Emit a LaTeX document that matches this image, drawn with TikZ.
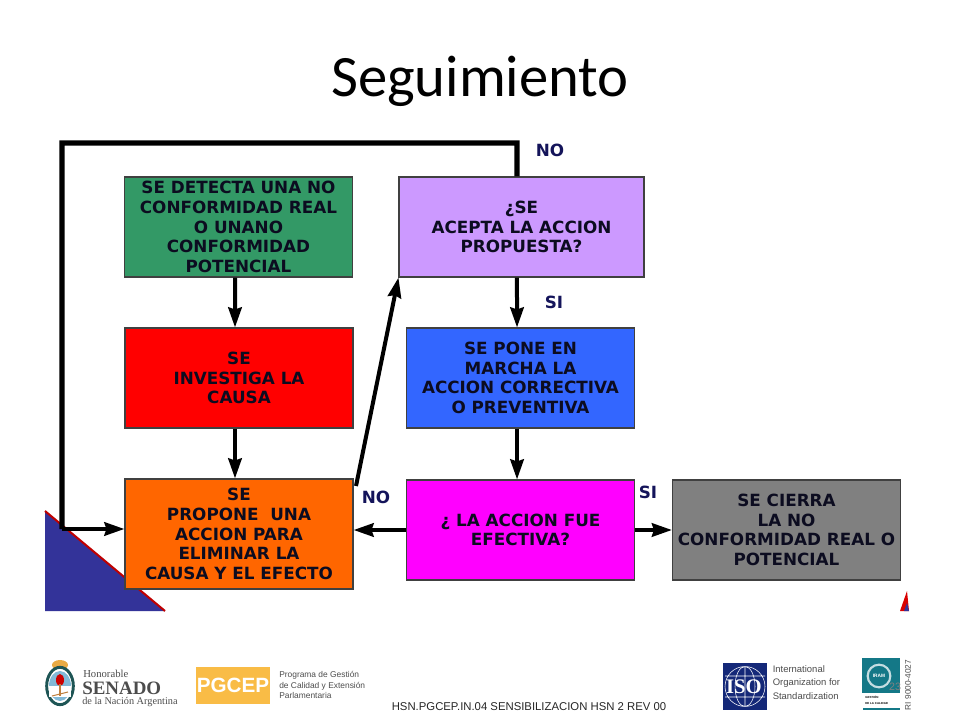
\documentclass[tikz,border=0pt]{standalone}
\usepackage{fontspec}
\setmainfont{Liberation Sans}
\newfontfamily\titlefont{Carlito}
\newfontfamily\boxfont{DejaVu Sans}
\newfontfamily\seriffont{Liberation Serif}
\usetikzlibrary{arrows.meta,shapes.geometric}
\definecolor{tinta}{HTML}{0C0C20}
\definecolor{marino}{HTML}{14145A}
\definecolor{azulado}{RGB}{51,51,153}
\definecolor{verdoso}{RGB}{51,153,102}
\definecolor{naranja}{RGB}{255,102,0}
\definecolor{lila}{RGB}{204,153,255}
\definecolor{celeste}{RGB}{51,102,255}
\definecolor{fucsia}{RGB}{255,0,255}
\definecolor{gris}{RGB}{128,128,128}
\definecolor{dorado}{RGB}{249,188,70}
\definecolor{isoazul}{RGB}{20,40,120}
\definecolor{iramazul}{RGB}{20,120,135}
\definecolor{escudoverde}{RGB}{30,85,85}
\definecolor{escudoazul}{RGB}{130,185,215}
\tikzset{
	caja/.style={draw=black!75,line width=0.8pt,minimum width=#1*0.75pt,minimum height=75pt,inner sep=0pt,align=center,text=tinta,font=\boxfont\bfseries\fontsize{12.6}{14.8}\selectfont},
	flecha/.style={draw=black,line width=3pt,-{Stealth[length=15pt,width=10pt,inset=1.5pt]}},
	lazo/.style={draw=black,line width=3.9pt,line join=miter},
	rotulo/.style={inner sep=0pt,text=marino,font=\boxfont\bfseries\fontsize{12.6}{14}\selectfont},
	logotexto/.style={inner sep=0pt,anchor=west,align=left,text=black!70}
}
\begin{document}
\begin{tikzpicture}[x=0.75pt,y=0.75pt,yscale=-1,xscale=1]
	\useasboundingbox (0,0) rectangle (960,720);
	
	% Triangles
	\fill [azulado] (45,511) -- (165,611) -- (45,611) -- cycle;
	\draw [line width=1.5pt,red!75!black] (45,511) -- (165,611);
	\fill [red!85!black] (900,611) -- (907,591) -- (909,611) -- cycle;
	\fill [azulado] (904,611) -- (907,603) -- (909,611) -- cycle;
	
	% Title
	\node (titulo) [inner sep=0pt] at (480,81) {\titlefont\fontsize{44}{50}\selectfont Seguimiento};
	
	% Boxes
	\node (detecta) [caja=228,fill=verdoso] at (238.5,227) {SE DETECTA UNA NO\\CONFORMIDAD REAL\\O UNANO\\CONFORMIDAD\\POTENCIAL};
	\node (investiga) [caja=228,fill=red] at (239,378) {SE\\INVESTIGA LA\\CAUSA};
	\node (propone) [caja=228,minimum height=82.5pt,fill=naranja] at (239,534) {SE\\PROPONE\ \ UNA\\ACCION PARA\\ELIMINAR LA\\CAUSA Y EL EFECTO};
	\node (acepta) [caja=245,fill=lila] at (521.5,227) {¿SE\\ACEPTA LA ACCION\\PROPUESTA?};
	\node (pone) [caja=228,fill=celeste] at (520.5,378) {SE PONE EN\\MARCHA LA\\ACCION CORRECTIVA\\O PREVENTIVA};
	\node (efectiva) [caja=228,fill=fucsia] at (520.5,530) {¿ LA ACCION FUE\\EFECTIVA?};
	\node (cierra) [caja=228,fill=gris] at (786.5,530) {SE CIERRA\\LA NO\\CONFORMIDAD REAL O\\POTENCIAL};
	
	% Arrows
	\draw [flecha] ([xshift=-2.6pt]detecta.south) -- ([xshift=-3pt]investiga.north);
	\draw [flecha] ([xshift=-3pt]investiga.south) -- ([xshift=-3pt]propone.north);
	\draw [flecha] ([xshift=-3.4pt]acepta.south) -- ([xshift=-2.6pt]pone.north);
	\draw [flecha] ([xshift=-2.6pt]pone.south) -- ([xshift=-2.6pt]efectiva.north);
	\draw [flecha] (efectiva.west) -- (efectiva.west -| propone.east);
	\draw [flecha] (efectiva.east) -- (efectiva.east -| cierra.west);
	\coordinate (salida) at (356,486);
	\draw [flecha] (salida) -- (acepta.south west);
	\coordinate (arriba) at (517,143);
	\coordinate (esquina) at (62,143);
	\coordinate (bajada) at (62,529);
	\draw [lazo] ([xshift=-3.4pt]acepta.north) -- (arriba) -- (esquina) -- (bajada);
	\draw [flecha] (bajada) -- (bajada -| propone.west);
	
	% Text Node
	\node (no1) [rotulo] at (550,150) {NO};
	\node (si1) [rotulo] at (554,302) {SI};
	\node (no2) [rotulo] at (376,497) {NO};
	\node (si2) [rotulo] at (648,492) {SI};
	
	% Senado logo
	\fill [dorado!70!brown] (60,665) ellipse (8 and 5);
	\node (escudo) [draw=escudoverde,line width=2.2pt,ellipse,minimum width=20pt,minimum height=28pt,inner sep=0pt,fill=white] at (60,686) {};
	\fill [escudoazul] (60,686) ellipse (11 and 15);
	\fill [white] (49,686) -- (71,686) -- (71,697) -- (49,697) -- cycle;
	\fill [red!80!black] (60,680) ellipse (4 and 6);
	\draw [line width=0.8pt,brown] (60,684) -- (60,696);
	\draw [line width=0.8pt,brown] (52,696) -- (68,692);
	\node (honorable) [logotexto,font=\seriffont\fontsize{8}{9}\selectfont] at (83,673.5) {Honorable};
	\node (senado) [logotexto,font=\seriffont\bfseries\fontsize{14.2}{16}\selectfont] at (82,688) {SENADO};
	\node (nacion) [logotexto,font=\seriffont\fontsize{7.7}{9}\selectfont] at (82,702) {de la Nación Argentina};
	
	% PGCEP logo
	\node (pgcep) [fill=dorado,minimum width=56pt,minimum height=27.5pt,inner sep=0pt,text=white,font=\bfseries\fontsize{15.5}{18}\selectfont] at (233,685.5) {PGCEP};
	\node (programa) [logotexto,font=\fontsize{6.3}{7.6}\selectfont] at (279,685) {Programa de Gestión\\de Calidad y Extensión\\Parlamentaria};
	
	% ISO logo
	\node (iso) [fill=isoazul,minimum width=33pt,minimum height=35pt,inner sep=0pt] at (745,686.5) {};
	\draw [white,line width=0.4pt] (745,686.5) circle (20) (745,686.5) ellipse (10 and 20) (725,676) -- (765,676) (725,697) -- (765,697) (745,666.5) -- (745,706.5);
	\node (isotexto) [inner sep=0pt,text=white,font=\seriffont\bfseries\fontsize{15.5}{18}\selectfont] at (744,686.5) {ISO};
	\node (organizacion) [logotexto,font=\fontsize{7.1}{10.2}\selectfont] at (772.5,682.5) {International\\Organization for\\Standardization};
	
	% IRAM logo
	\node (iram) [fill=iramazul,minimum width=28.5pt,minimum height=26.25pt,inner sep=0pt] at (881,675.5) {};
	\node (anillo) [draw=white!75!iramazul,line width=1.6pt,circle,minimum size=17pt,inner sep=0pt,text=white,font=\bfseries\fontsize{3.6}{5}\selectfont] at (879,676) {IRAM};
	\node (veintitres) [inner sep=0pt,text=gris,font=\fontsize{8}{9}\selectfont] at (895,687) {23};
	\node (gestion) [inner sep=0pt,anchor=north west,align=left,text=black,font=\bfseries\fontsize{2.2}{4}\selectfont] at (865,696) {GESTIÓN\\DE LA CALIDAD};
	\draw [line width=1.5pt,iramazul] (863,708.5) -- (900,708.5);
	\node (registro) [rotate=90,inner sep=0pt,text=black!70,font=\fontsize{6.2}{7}\selectfont] at (908,685) {RI 9000-4027};
	
	% Footer
	\node (pie) [inner sep=0pt,text=black!85,font=\fontsize{8.5}{10}\selectfont] at (529,707) {HSN.PGCEP.IN.04 SENSIBILIZACION HSN 2 REV 00};
	
\end{tikzpicture}
\end{document}
